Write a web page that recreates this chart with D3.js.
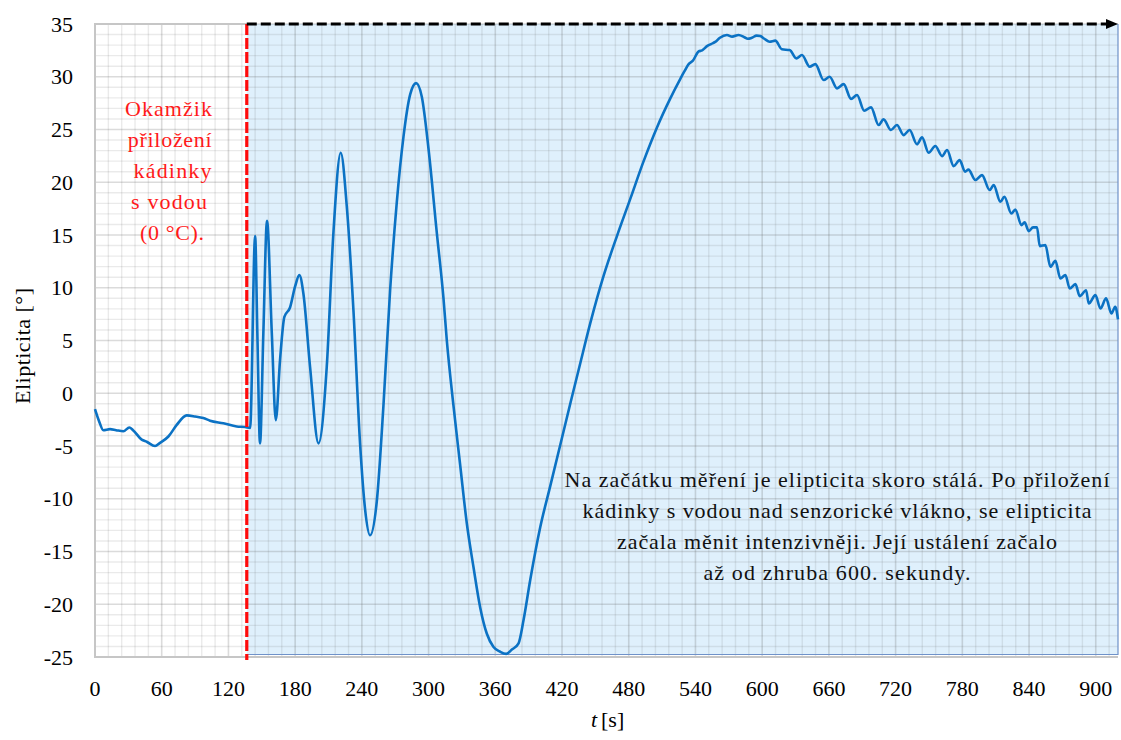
<!DOCTYPE html>
<html><head><meta charset="utf-8">
<script src="https://cdn.jsdelivr.net/npm/d3@7"></script>
<style>
body{margin:0;background:#fff}
svg text{font-family:'Liberation Serif','DejaVu Serif','Noto Serif',serif}
</style>
</head><body>
<svg id="c" width="1121" height="740"></svg>
<script>
// ---- data ----
const timeS = [0,3.5,7.5,13.5,19,25.5,30.9,34.2,42,46.5,54,58.5,66,73.5,82.5,90,97.4,103.5,115.4,127.5,135,139.5,
  144,146,148.4,151.4,154.7,159,162.6,166.4,170.3,175.4,179.9,183.8,187.4,193.4,201,208.4,214.4,221,226.4,232.4,238.4,242.9,
  247.4,253.4,259.4,265.4,271.4,277.4,283.4,288.8,293.9,299.9,307.4,313.4,316.4,322.4,328.4,334.4,340.4,346.4,352.4,358.4,
  364.4,369.8,374.9,380.9,385.4,391.4,400.4,409.4,418.4,427.4,436.3,445.3,457.3,469.4,481.3,493.4,505.4,517.4,526.4,530,
  533.9,537.5,542.9,546,550.4,554,557.8,562,568.3,573,578.8,584,587,590.8,595,598.3,602,606.7,611.8,617.8,624.7,630.7,635.8,
  642.7,647.8,655.3,660.7,667.3,673.3,679.9,685.3,691.8,697.9,704.7,709.2,715.8,721.2,727.2,732.6,739.2,743.8,749.7,755.7,
  761.8,766.3,772.2,777.6,782.5,785.5,791.7,797.7,804.6,808.2,814.2,817.8,824.1,827.7,833.1,836,839.7,843.6,847.2,849.6,
  854.7,859.2,863.7,868.2,872.7,876.6,881.7,885.6,891.3,893.7,899.7,904.2,909.3,914.1,917.5,920];
const ellipticity = [-1.5,-2.6,-3.5,-3.4,-3.5,-3.6,-3.25,-3.5,-4.4,-4.6,-5.0,-4.7,-4.1,-3.0,-2.1,-2.2,-2.35,-2.6,-2.85,-3.15,-3.2,-3.28,
  14.9,5.7,-4.76,5.7,16.35,5.7,-2.55,3.14,7.24,8.13,10.1,11.2,9.46,2.5,-4.75,2.47,15.2,22.8,17.76,7.9,-4.8,-11.0,
  -13.46,-10.26,-1.17,9.76,18.1,24.3,28.3,29.4,28.1,23.2,15.2,9.0,5.0,-1.2,-6.8,-12.35,-16.5,-20.3,-22.8,-24.05,
  -24.5,-24.7,-24.3,-23.7,-21.5,-17.7,-12.7,-8.8,-4.9,-1.0,2.8,6.6,11.1,14.9,18.4,22.0,25.2,27.95,29.8,30.5,
  31.2,31.5,32.4,32.5,32.9,33.1,33.3,33.7,33.96,33.8,33.96,33.75,33.6,33.7,33.9,33.86,33.6,33.32,33.42,32.6,32.53,31.74,32.06,
  30.95,31.2,29.69,30.0,28.9,29.3,27.9,28.27,26.78,27.1,25.42,25.96,24.95,25.42,24.47,24.95,23.6,24.25,22.8,23.43,
  22.48,23.05,21.53,22.1,21.0,21.2,20.21,20.68,19.26,19.73,18.15,18.62,17.04,17.42,15.94,16.2,15.37,15.72,15.72,13.95,
  14.04,11.99,12.55,10.88,11.2,9.94,10.34,9.21,9.77,8.51,9.3,8.04,8.99,7.56,8.2,7.0];
const xTicks = [0,60,120,180,240,300,360,420,480,540,600,660,720,780,840,900];
const yTicks = [-25,-20,-15,-10,-5,0,5,10,15,20,25,30,35];
const xDomain = [0, 920];
const yDomain = [-25, 35];
const beakerTime = 136.5;
const leftNote = ["Okamžik","přiložení","kádinky","s vodou","(0 °C)."];
const rightNote = ["Na začátku měření je elipticita skoro stálá. Po přiložení",
  "kádinky s vodou nad senzorické vlákno, se elipticita",
  "začala měnit intenzivněji. Její ustálení začalo",
  "až od zhruba 600. sekundy."];
const yTitle = "Elipticita [°]";

// ---- layout ----
const FONT = "'Liberation Serif','DejaVu Serif','Noto Serif',serif";
const L = 95, R = 1118, T = 24, B = 657;
const svg = d3.select("#c");
const x = d3.scaleLinear().domain(xDomain).range([L, R]);
const y = d3.scaleLinear().domain(yDomain).range([B, T]);
const xs = x(beakerTime);

// blue region
svg.append("rect").attr("x", xs).attr("y", T).attr("width", R - xs).attr("height", B - 2.5 - T)
  .attr("fill", "#dff0fc");

// grid
const g = svg.append("g");
d3.range(0, 921, 12).forEach(t => {
  const major = t % 60 === 0;
  g.append("line").attr("x1", x(t)).attr("x2", x(t)).attr("y1", T).attr("y2", B)
    .attr("stroke", major ? "rgba(90,90,90,0.22)" : "rgba(90,90,90,0.13)").attr("stroke-width", major ? 1.6 : 1.4);
});
d3.range(-25, 36, 1).forEach(v => {
  const major = v % 5 === 0;
  g.append("line").attr("x1", L).attr("x2", R).attr("y1", y(v)).attr("y2", y(v))
    .attr("stroke", major ? "rgba(90,90,90,0.22)" : "rgba(90,90,90,0.13)").attr("stroke-width", major ? 1.6 : 1.4);
});

// plot border (gray)
svg.append("path").attr("d", `M${R},${B}H${L}V${T}H${xs}`).attr("fill", "none")
  .attr("stroke", "#c6c6c6").attr("stroke-width", 2);
// blue region border
svg.append("path").attr("d", `M${xs},${B-2.5}H${R}V${T}`).attr("fill", "none")
  .attr("stroke", "#6f92c9").attr("stroke-width", 1.2);

// curve
const pts = timeS.map((t, i) => [t, ellipticity[i]]);
svg.append("path").datum(pts)
  .attr("d", d3.line().x(d => x(d[0])).y(d => y(d[1])).curve(d3.curveMonotoneX))
  .attr("fill", "none").attr("stroke", "#0b72c4").attr("stroke-width", 2.6).attr("stroke-linejoin", "round");

// red dashed marker
svg.append("line").attr("x1", xs).attr("x2", xs).attr("y1", T).attr("y2", B + 3)
  .attr("stroke", "#ff0a0a").attr("stroke-width", 3.2).attr("stroke-dasharray", "11,3");

// black dashed arrow
svg.append("line").attr("x1", xs).attr("x2", R - 10).attr("y1", T).attr("y2", T)
  .attr("stroke", "#000").attr("stroke-width", 3).attr("stroke-dasharray", "10,4");
svg.append("path").attr("d", `M${R-12},${T-5}L${R},${T}L${R-12},${T+5}Z`).attr("fill", "#000");

// tick labels
svg.append("g").selectAll("text").data(xTicks).join("text")
  .attr("x", d => x(d)).attr("y", 696).attr("text-anchor", "middle").attr("font-family", FONT)
  .attr("font-size", 22).attr("fill", "#000").text(d => d);
svg.append("g").selectAll("text").data(yTicks).join("text")
  .attr("x", 73).attr("y", d => y(d) + 7.5).attr("text-anchor", "end").attr("font-family", FONT)
  .attr("font-size", 22).attr("fill", "#000").text(d => d);

// axis titles
svg.append("text").attr("transform", "translate(30,346) rotate(-90)").attr("text-anchor", "middle")
  .attr("font-family", FONT).attr("font-size", 22).attr("fill", "#000")
  .attr("textLength", 116).attr("lengthAdjust", "spacing").text(yTitle);
svg.append("text").attr("x", 594).attr("y", 727).attr("text-anchor", "middle")
  .attr("font-family", FONT).attr("font-size", 22).attr("font-style", "italic").attr("fill", "#000").text("t");
svg.append("text").attr("x", 601).attr("y", 727).attr("text-anchor", "start")
  .attr("font-family", FONT).attr("font-size", 22).attr("fill", "#000").text("[s]");

// red note
const leftCx = [168.5, 169.7, 172.5, 169, 172];
const leftW = [87, 84, 78, 76, 64];
leftNote.forEach((s, i) => {
  svg.append("text").attr("x", leftCx[i]).attr("y", 116 + i * 31).attr("text-anchor", "middle")
    .attr("font-family", FONT).attr("font-size", 22).attr("fill", "#ff1a1a")
    .attr("textLength", leftW[i]).attr("lengthAdjust", "spacing").text(s);
});
// black note
const rightW = [545, 509, 440, 267];
rightNote.forEach((s, i) => {
  svg.append("text").attr("x", 837).attr("y", 486.5 + i * 31.2).attr("text-anchor", "middle")
    .attr("font-family", FONT).attr("font-size", 22).attr("fill", "#111")
    .attr("textLength", rightW[i]).attr("lengthAdjust", "spacing").text(s);
});
</script>
</body></html>
